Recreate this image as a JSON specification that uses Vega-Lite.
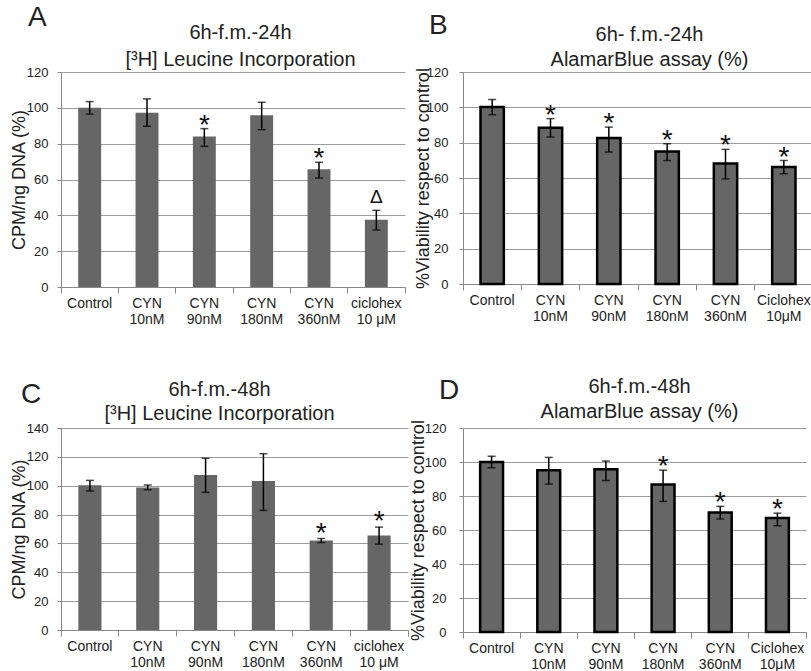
{
  "$schema": "https://vega.github.io/schema/vega-lite/v6.json",
  "background": "white",
  "padding": {"left": 10, "top": 4, "right": 0, "bottom": 0},
  "config": {
    "font": "Liberation Sans",
    "view": {"stroke": null},
    "title": {"anchor": "start", "frame": "group", "fontSize": 28, "fontWeight": "normal", "color": "#222222", "baseline": "alphabetic", "offset": 0},
    "axis": {"labelColor": "#222222", "titleColor": "#222222", "titleFontWeight": "normal", "domainColor": "#888888", "tickColor": "#888888", "gridColor": "#9c9c9c", "labelOverlap": false}
  },
  "datasets": {
    "A": [
      {"group": "Control", "value": 100, "lo": 96.5, "hi": 103.5, "mark": ""},
      {"group": "CYN|10nM", "value": 97.3, "lo": 89.7, "hi": 105, "mark": ""},
      {"group": "CYN|90nM", "value": 84, "lo": 78.5, "hi": 88.4, "mark": "*"},
      {"group": "CYN|180nM", "value": 95.8, "lo": 87.8, "hi": 103.1, "mark": ""},
      {"group": "CYN|360nM", "value": 65.7, "lo": 60.8, "hi": 69.6, "mark": "*"},
      {"group": "ciclohex|10 μM", "value": 37.6, "lo": 31.8, "hi": 42.8, "mark": "Δ"}
    ],
    "B": [
      {"group": "Control", "value": 100.2, "lo": 95.8, "hi": 104.5, "mark": ""},
      {"group": "CYN|10nM", "value": 88.5, "lo": 83.2, "hi": 93.6, "mark": "*"},
      {"group": "CYN|90nM", "value": 82.6, "lo": 74.7, "hi": 88.8, "mark": "*"},
      {"group": "CYN|180nM", "value": 75, "lo": 69.9, "hi": 79.4, "mark": "*"},
      {"group": "CYN|360nM", "value": 68.2, "lo": 59.5, "hi": 76.2, "mark": "*"},
      {"group": "Ciclohex|10μM", "value": 66.2, "lo": 62.4, "hi": 69.9, "mark": "*"}
    ],
    "C": [
      {"group": "Control", "value": 100.4, "lo": 96.3, "hi": 103.7, "mark": ""},
      {"group": "CYN|10nM", "value": 98.8, "lo": 97.2, "hi": 100.5, "mark": ""},
      {"group": "CYN|90nM", "value": 107.4, "lo": 95.4, "hi": 119, "mark": ""},
      {"group": "CYN|180nM", "value": 103.2, "lo": 82.9, "hi": 122.2, "mark": ""},
      {"group": "CYN|360nM", "value": 62, "lo": 60.6, "hi": 63.4, "mark": "*"},
      {"group": "ciclohex|10 μM", "value": 65.5, "lo": 59.5, "hi": 71.3, "mark": "*"}
    ],
    "D": [
      {"group": "Control", "value": 100, "lo": 96.6, "hi": 103.4, "mark": ""},
      {"group": "CYN|10nM", "value": 95.2, "lo": 87, "hi": 102.7, "mark": ""},
      {"group": "CYN|90nM", "value": 95.8, "lo": 89.1, "hi": 100.6, "mark": ""},
      {"group": "CYN|180nM", "value": 86.7, "lo": 76.8, "hi": 95.2, "mark": "*"},
      {"group": "CYN|360nM", "value": 70.3, "lo": 66.5, "hi": 73.9, "mark": "*"},
      {"group": "Ciclohex|10μM", "value": 67, "lo": 62.5, "hi": 69.9, "mark": "*"}
    ]
  },
  "columns": 2,
  "bounds": "flush",
  "align": "none",
  "spacing": {"row": 141, "column": 55},
  "concat": [
    {
      "width": 344, "height": 215,
      "data": {"name": "A"},
      "title": {"text": "A", "dx": -33, "dy": 14},
      "resolve": {"axis": {"x": "independent", "y": "independent"}},
      "layer": [
        {
          "mark": {"type": "bar", "width": {"band": 0.4}, "color": "#666666"},
          "encoding": {
            "x": {"field": "group", "type": "nominal", "sort": null, "scale": {"paddingInner": 0, "paddingOuter": 0},
                  "axis": {"title": null, "labelAngle": 0, "labelFontSize": 14, "labelLineHeight": 16, "labelExpr": "isValid(datum.value) ? split(datum.value, '|') : ''", "bandPosition": 1, "tickExtra": true, "tickSize": 6, "labelPadding": 3, "labelBaseline": "top", "grid": false}},
            "y": {"field": "value", "type": "quantitative", "scale": {"domain": [0, 120]},
                  "axis": {"title": "CPM/ng DNA (%)", "titleFontSize": 18, "values": [0, 20, 40, 60, 80, 100, 120], "labelFontSize": 13, "tickSize": 4, "labelPadding": 9, "titlePadding": -2, "grid": true}}
          }
        },
        {
          "mark": {"type": "rule", "color": "black", "strokeWidth": 1.5},
          "encoding": {"x": {"field": "group", "type": "nominal", "sort": null, "axis": null}, "y": {"field": "lo", "type": "quantitative", "axis": null}, "y2": {"field": "hi"}}
        },
        {
          "mark": {"type": "tick", "color": "black", "size": 8, "thickness": 1.5},
          "encoding": {"x": {"field": "group", "type": "nominal", "sort": null, "axis": null}, "y": {"field": "lo", "type": "quantitative", "axis": null}}
        },
        {
          "mark": {"type": "tick", "color": "black", "size": 8, "thickness": 1.5},
          "encoding": {"x": {"field": "group", "type": "nominal", "sort": null, "axis": null}, "y": {"field": "hi", "type": "quantitative", "axis": null}}
        },
        {
          "transform": [{"filter": "datum.mark == '*'"}],
          "mark": {"type": "text", "fontSize": 28, "baseline": "alphabetic", "dy": 5, "color": "#111111"},
          "encoding": {"x": {"field": "group", "type": "nominal", "sort": null, "axis": null}, "y": {"field": "hi", "type": "quantitative", "axis": null}, "text": {"field": "mark"}}
        },
        {
          "transform": [{"filter": "datum.mark == 'Δ'"}],
          "mark": {"type": "text", "fontSize": 19, "baseline": "alphabetic", "dy": -7, "color": "#111111"},
          "encoding": {"x": {"field": "group", "type": "nominal", "sort": null, "axis": null}, "y": {"field": "hi", "type": "quantitative", "axis": null}, "text": {"field": "mark"}}
        },
        {
          "mark": {"type": "point", "opacity": 0},
          "encoding": {"x": {"field": "group", "type": "nominal", "sort": null,
            "axis": {"orient": "top", "labels": false, "ticks": false, "domain": false, "grid": false, "title": ["6h-f.m.-24h", "[³H] Leucine Incorporation"], "titleFontSize": 20, "titleLineHeight": 27, "titleBaseline": "bottom", "titlePadding": 3, "titleX": 179, "titleAlign": "center"}}}
        }
      ]
    },
    {
      "width": 350, "height": 212,
      "data": {"name": "B"},
      "title": {"text": "B", "dx": -34, "dy": 20},
      "resolve": {"axis": {"x": "independent", "y": "independent"}},
      "layer": [
        {
          "mark": {"type": "bar", "width": {"band": 0.4}, "color": "#666666", "stroke": "black", "strokeWidth": 2.5},
          "encoding": {
            "x": {"field": "group", "type": "nominal", "sort": null, "scale": {"paddingInner": 0, "paddingOuter": 0},
                  "axis": {"title": null, "labelAngle": 0, "labelFontSize": 14, "labelLineHeight": 16, "labelExpr": "isValid(datum.value) ? split(datum.value, '|') : ''", "bandPosition": 1, "tickExtra": true, "tickSize": 6, "labelPadding": 3, "labelBaseline": "top", "grid": false}},
            "y": {"field": "value", "type": "quantitative", "scale": {"domain": [0, 120]},
                  "axis": {"title": "%Viability respect to control", "titleFontSize": 18, "values": [0, 20, 40, 60, 80, 100, 120], "labelFontSize": 13, "tickSize": 4, "labelPadding": 11, "titlePadding": -6, "grid": true}}
          }
        },
        {
          "mark": {"type": "rule", "color": "black", "strokeWidth": 1.5},
          "encoding": {"x": {"field": "group", "type": "nominal", "sort": null, "axis": null}, "y": {"field": "lo", "type": "quantitative", "axis": null}, "y2": {"field": "hi"}}
        },
        {
          "mark": {"type": "tick", "color": "black", "size": 8, "thickness": 1.5},
          "encoding": {"x": {"field": "group", "type": "nominal", "sort": null, "axis": null}, "y": {"field": "lo", "type": "quantitative", "axis": null}}
        },
        {
          "mark": {"type": "tick", "color": "black", "size": 8, "thickness": 1.5},
          "encoding": {"x": {"field": "group", "type": "nominal", "sort": null, "axis": null}, "y": {"field": "hi", "type": "quantitative", "axis": null}}
        },
        {
          "transform": [{"filter": "datum.mark == '*'"}],
          "mark": {"type": "text", "fontSize": 28, "baseline": "alphabetic", "dy": 5, "color": "#111111"},
          "encoding": {"x": {"field": "group", "type": "nominal", "sort": null, "axis": null}, "y": {"field": "hi", "type": "quantitative", "axis": null}, "text": {"field": "mark"}}
        },
        {
          "mark": {"type": "point", "opacity": 0},
          "encoding": {"x": {"field": "group", "type": "nominal", "sort": null,
            "axis": {"orient": "top", "labels": false, "ticks": false, "domain": false, "grid": false, "title": ["6h- f.m.-24h", "AlamarBlue assay (%)"], "titleFontSize": 20, "titleLineHeight": 25, "titleBaseline": "bottom", "titlePadding": 3, "titleX": 186, "titleAlign": "center"}}}
        }
      ]
    },
    {
      "width": 347, "height": 202,
      "data": {"name": "C"},
      "title": {"text": "C", "dx": -40, "dy": 34},
      "resolve": {"axis": {"x": "independent", "y": "independent"}},
      "layer": [
        {
          "mark": {"type": "bar", "width": {"band": 0.4}, "color": "#666666"},
          "encoding": {
            "x": {"field": "group", "type": "nominal", "sort": null, "scale": {"paddingInner": 0, "paddingOuter": 0},
                  "axis": {"title": null, "labelAngle": 0, "labelFontSize": 14, "labelLineHeight": 16, "labelExpr": "isValid(datum.value) ? split(datum.value, '|') : ''", "bandPosition": 1, "tickExtra": true, "tickSize": 6, "labelPadding": 3, "labelBaseline": "top", "grid": false}},
            "y": {"field": "value", "type": "quantitative", "scale": {"domain": [0, 140]},
                  "axis": {"title": "CPM/ng DNA (%)", "titleFontSize": 18, "values": [0, 20, 40, 60, 80, 100, 120, 140], "labelFontSize": 13, "tickSize": 4, "labelPadding": 9, "titlePadding": -2, "grid": true}}
          }
        },
        {
          "mark": {"type": "rule", "color": "black", "strokeWidth": 1.5},
          "encoding": {"x": {"field": "group", "type": "nominal", "sort": null, "axis": null}, "y": {"field": "lo", "type": "quantitative", "axis": null}, "y2": {"field": "hi"}}
        },
        {
          "mark": {"type": "tick", "color": "black", "size": 8, "thickness": 1.5},
          "encoding": {"x": {"field": "group", "type": "nominal", "sort": null, "axis": null}, "y": {"field": "lo", "type": "quantitative", "axis": null}}
        },
        {
          "mark": {"type": "tick", "color": "black", "size": 8, "thickness": 1.5},
          "encoding": {"x": {"field": "group", "type": "nominal", "sort": null, "axis": null}, "y": {"field": "hi", "type": "quantitative", "axis": null}}
        },
        {
          "transform": [{"filter": "datum.mark == '*'"}],
          "mark": {"type": "text", "fontSize": 28, "baseline": "alphabetic", "dy": 3, "color": "#111111"},
          "encoding": {"x": {"field": "group", "type": "nominal", "sort": null, "axis": null}, "y": {"field": "hi", "type": "quantitative", "axis": null}, "text": {"field": "mark"}}
        },
        {
          "mark": {"type": "point", "opacity": 0},
          "encoding": {"x": {"field": "group", "type": "nominal", "sort": null,
            "axis": {"orient": "top", "labels": false, "ticks": false, "domain": false, "grid": false, "title": ["6h-f.m.-48h", "[³H] Leucine Incorporation"], "titleFontSize": 20, "titleLineHeight": 24, "titleBaseline": "bottom", "titlePadding": 5, "titleX": 158, "titleAlign": "center"}}}
        }
      ]
    },
    {
      "width": 343, "height": 204,
      "data": {"name": "D"},
      "title": {"text": "D", "dx": -24, "dy": 33},
      "resolve": {"axis": {"x": "independent", "y": "independent"}},
      "layer": [
        {
          "mark": {"type": "bar", "width": {"band": 0.4}, "color": "#666666", "stroke": "black", "strokeWidth": 2.5},
          "encoding": {
            "x": {"field": "group", "type": "nominal", "sort": null, "scale": {"paddingInner": 0, "paddingOuter": 0},
                  "axis": {"title": null, "labelAngle": 0, "labelFontSize": 14, "labelLineHeight": 16, "labelExpr": "isValid(datum.value) ? split(datum.value, '|') : ''", "bandPosition": 1, "tickExtra": true, "tickSize": 6, "labelPadding": 3, "labelBaseline": "top", "grid": false}},
            "y": {"field": "value", "type": "quantitative", "scale": {"domain": [0, 120]},
                  "axis": {"title": "%Viability respect to control", "titleFontSize": 18, "values": [0, 20, 40, 60, 80, 100, 120], "labelFontSize": 13, "tickSize": 4, "labelPadding": 13, "titlePadding": -3, "grid": true}}
          }
        },
        {
          "mark": {"type": "rule", "color": "black", "strokeWidth": 1.5},
          "encoding": {"x": {"field": "group", "type": "nominal", "sort": null, "axis": null}, "y": {"field": "lo", "type": "quantitative", "axis": null}, "y2": {"field": "hi"}}
        },
        {
          "mark": {"type": "tick", "color": "black", "size": 8, "thickness": 1.5},
          "encoding": {"x": {"field": "group", "type": "nominal", "sort": null, "axis": null}, "y": {"field": "lo", "type": "quantitative", "axis": null}}
        },
        {
          "mark": {"type": "tick", "color": "black", "size": 8, "thickness": 1.5},
          "encoding": {"x": {"field": "group", "type": "nominal", "sort": null, "axis": null}, "y": {"field": "hi", "type": "quantitative", "axis": null}}
        },
        {
          "transform": [{"filter": "datum.mark == '*'"}],
          "mark": {"type": "text", "fontSize": 28, "baseline": "alphabetic", "dy": 5, "color": "#111111"},
          "encoding": {"x": {"field": "group", "type": "nominal", "sort": null, "axis": null}, "y": {"field": "hi", "type": "quantitative", "axis": null}, "text": {"field": "mark"}}
        },
        {
          "mark": {"type": "point", "opacity": 0},
          "encoding": {"x": {"field": "group", "type": "nominal", "sort": null,
            "axis": {"orient": "top", "labels": false, "ticks": false, "domain": false, "grid": false, "title": ["6h-f.m.-48h", "AlamarBlue assay (%)"], "titleFontSize": 20, "titleLineHeight": 25, "titleBaseline": "bottom", "titlePadding": 7, "titleX": 176, "titleAlign": "center"}}}
        }
      ]
    }
  ]
}
